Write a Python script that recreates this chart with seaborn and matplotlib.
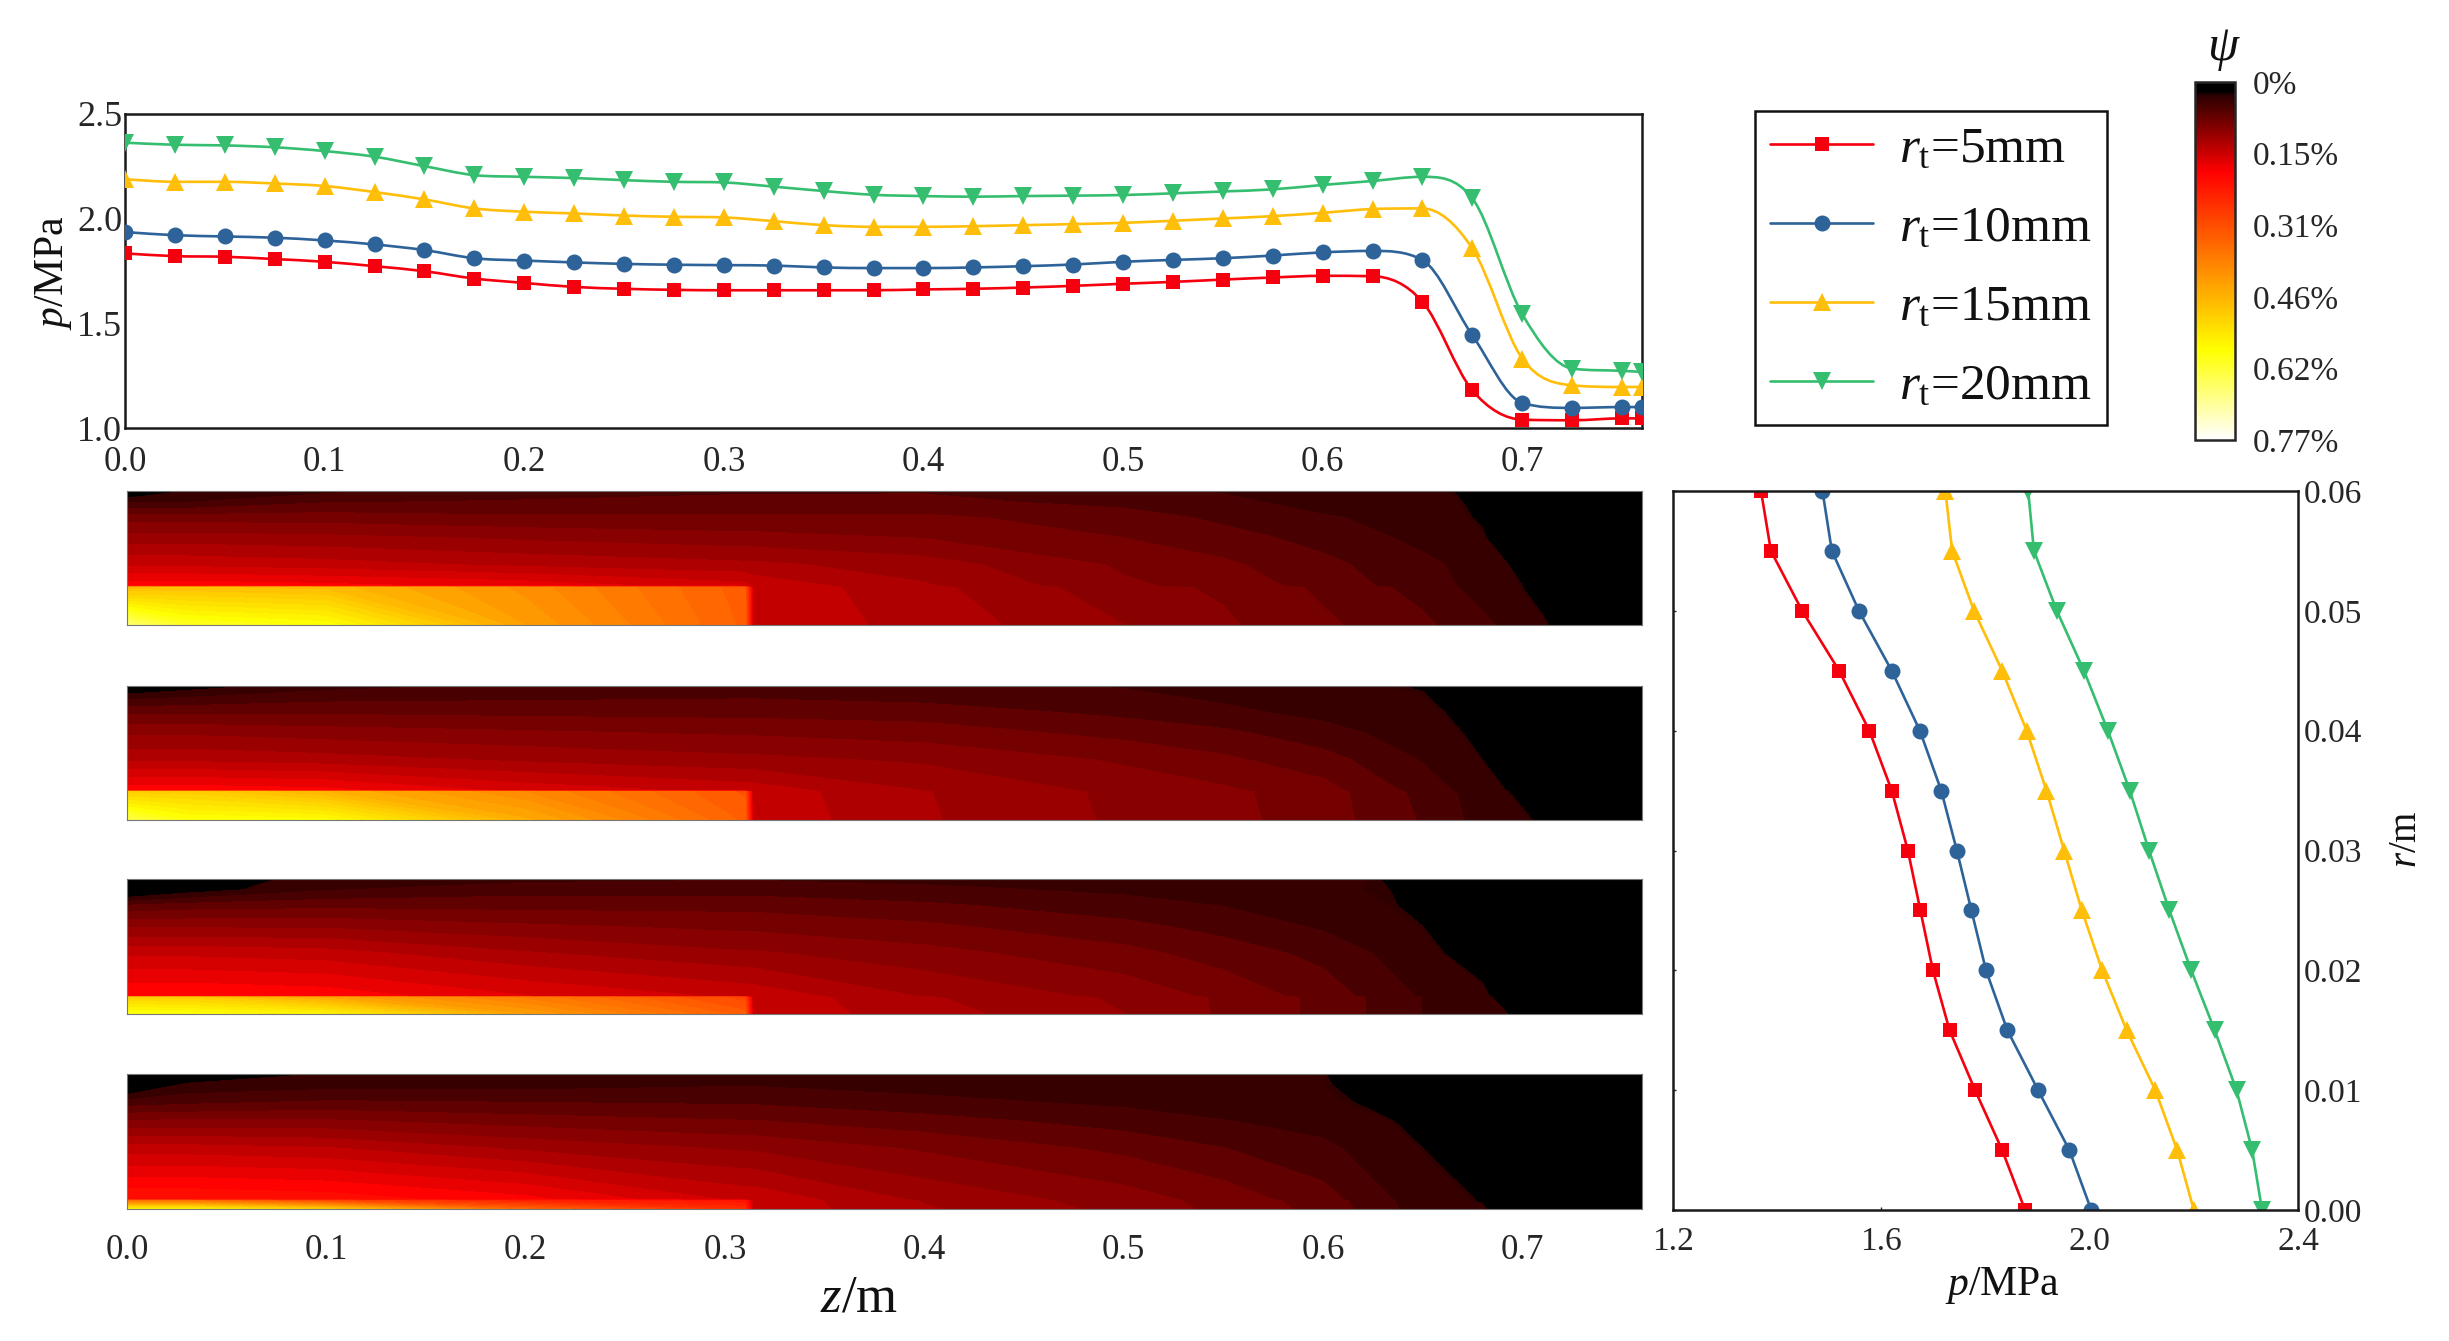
import numpy as np
import matplotlib
matplotlib.use('Agg')
import matplotlib.pyplot as plt
import seaborn as sns
from matplotlib.cm import ScalarMappable
from matplotlib.colors import LinearSegmentedColormap, Normalize
from matplotlib.patches import PathPatch
from matplotlib.path import Path

# axial pressure along the wall
z_axial = [0.0, 0.025, 0.05, 0.075, 0.1, 0.125, 0.15, 0.175, 0.2, 0.225, 0.25, 0.275, 0.3, 0.325, 0.35, 0.375,
           0.4, 0.425, 0.45, 0.475, 0.5, 0.525, 0.55, 0.575, 0.6, 0.625, 0.65, 0.675, 0.7, 0.725, 0.75, 0.76]
p_axial_5 = [1.834, 1.821, 1.818, 1.807, 1.794, 1.773, 1.749, 1.714, 1.693, 1.674, 1.665, 1.660, 1.658, 1.658, 1.658, 1.658,
             1.662, 1.665, 1.671, 1.679, 1.689, 1.698, 1.709, 1.719, 1.727, 1.725, 1.603, 1.180, 1.040, 1.037, 1.046, 1.046]
p_axial_10 = [1.936, 1.921, 1.915, 1.909, 1.896, 1.877, 1.850, 1.811, 1.800, 1.791, 1.784, 1.780, 1.778, 1.776, 1.767, 1.764,
              1.764, 1.767, 1.773, 1.781, 1.794, 1.803, 1.811, 1.824, 1.839, 1.846, 1.802, 1.443, 1.120, 1.096, 1.100, 1.100]
p_axial_15 = [2.188, 2.176, 2.176, 2.168, 2.156, 2.127, 2.092, 2.049, 2.033, 2.025, 2.015, 2.009, 2.006, 1.988, 1.969, 1.961,
              1.961, 1.964, 1.969, 1.974, 1.980, 1.990, 2.001, 2.012, 2.028, 2.046, 2.049, 1.858, 1.332, 1.204, 1.196, 1.196]
p_axial_20 = [2.363, 2.353, 2.350, 2.341, 2.323, 2.296, 2.251, 2.208, 2.200, 2.194, 2.184, 2.176, 2.173, 2.153, 2.132, 2.114,
              2.108, 2.105, 2.108, 2.110, 2.113, 2.121, 2.130, 2.140, 2.161, 2.180, 2.200, 2.097, 1.544, 1.284, 1.273, 1.268]

# radial pressure, listed from r=0.06 down to r=0
r_radial = [0.06, 0.055, 0.05, 0.045, 0.04, 0.035, 0.03, 0.025, 0.02, 0.015, 0.01, 0.005, 0.0]
p_radial_5 = [1.369, 1.388, 1.448, 1.519, 1.577, 1.620, 1.651, 1.675, 1.699, 1.731, 1.780, 1.832, 1.876]
p_radial_10 = [1.487, 1.505, 1.557, 1.620, 1.674, 1.715, 1.745, 1.773, 1.801, 1.842, 1.901, 1.961, 2.003]
p_radial_15 = [1.723, 1.736, 1.778, 1.832, 1.879, 1.917, 1.951, 1.985, 2.024, 2.071, 2.126, 2.168, 2.200]
p_radial_20 = [1.882, 1.893, 1.937, 1.989, 2.035, 2.077, 2.114, 2.153, 2.195, 2.240, 2.282, 2.312, 2.331]

labels = [r'$r_{\mathrm{t}}$=5mm', r'$r_{\mathrm{t}}$=10mm', r'$r_{\mathrm{t}}$=15mm', r'$r_{\mathrm{t}}$=20mm']
colors = ['#F5000F', '#2E6399', '#FFBE0A', '#35BE70']
markers = ['s', 'o', '^', 'v']
marker_sizes = [10.5, 11.5, 13, 13]

# psi field, rows run from r=0 up to r=0.06
z_field = [0.0, 0.03, 0.1, 0.2, 0.31, 0.314, 0.4, 0.5, 0.55, 0.6, 0.65, 0.68, 0.71, 0.76]
r_rows_1 = [0.0, 0.0168, 0.0175, 0.027, 0.039, 0.048, 0.0552, 0.06]
r_rows_2 = [0.0, 0.0126, 0.0132, 0.027, 0.039, 0.048, 0.0552, 0.06]
r_rows_3 = [0.0, 0.0074, 0.008, 0.027, 0.039, 0.048, 0.0552, 0.06]
r_rows_4 = [0.0, 0.0036, 0.0042, 0.027, 0.039, 0.048, 0.0552, 0.06]
psi_1 = [
    [.66, .60, .58, .43, .335, .15, .133, .108, .095, .08, .065, .05, .032, 0],
    [.47, .48, .47, .41, .33, .15, .128, .098, .09, .074, .056, .04, .025, 0],
    [.195, .195, .19, .18, .16, .15, .125, .095, .087, .07, .054, .04, .025, 0],
    [.15, .15, .145, .135, .127, .127, .115, .09, .08, .066, .05, .04, .017, 0],
    [.115, .115, .112, .105, .098, .098, .092, .077, .068, .056, .042, .032, 0, 0],
    [.085, .085, .085, .08, .08, .08, .08, .07, .058, .048, .04, .028, 0, 0],
    [.045, .045, .06, .063, .065, .065, .066, .056, .05, .04, .036, .027, 0, 0],
    [0, .03, .042, .055, .06, .06, .06, .05, .045, .038, .034, .026, 0, 0],
]
psi_2 = [
    [.63, .585, .575, .45, .335, .15, .125, .105, .097, .085, .06, .04, .028, 0],
    [.5, .5, .46, .4, .32, .148, .124, .104, .096, .084, .057, .038, .02, 0],
    [.195, .195, .19, .165, .148, .147, .123, .103, .095, .083, .055, .037, .019, 0],
    [.135, .135, .13, .12, .112, .112, .105, .09, .08, .068, .045, .03, 0, 0],
    [.105, .105, .1, .095, .09, .09, .085, .072, .065, .052, .038, .026, 0, 0],
    [.075, .075, .075, .073, .072, .072, .07, .058, .05, .042, .033, .025, 0, 0],
    [.04, .045, .055, .058, .06, .06, .056, .05, .043, .036, .031, .02, 0, 0],
    [0, .02, .04, .05, .055, .055, .05, .045, .04, .034, .029, 0, 0, 0],
]
psi_3 = [
    [.59, .58, .56, .43, .33, .15, .13, .108, .09, .073, .046, .041, .015, 0],
    [.5, .5, .44, .38, .3, .15, .125, .105, .09, .073, .046, .036, 0, 0],
    [.2, .2, .195, .17, .15, .149, .122, .103, .088, .07, .044, .034, 0, 0],
    [.15, .15, .145, .125, .11, .11, .098, .082, .07, .057, .035, .021, 0, 0],
    [.105, .105, .105, .095, .088, .088, .08, .066, .056, .044, .03, .01, 0, 0],
    [.065, .07, .073, .072, .072, .072, .065, .053, .046, .036, .028, 0, 0, 0],
    [0, .02, .045, .055, .055, .055, .05, .043, .037, .032, .029, 0, 0, 0],
    [0, .012, .04, .042, .045, .045, .042, .038, .034, .034, .027, 0, 0, 0],
]
psi_4 = [
    [.56, .56, .5, .34, .26, .15, .125, .103, .088, .072, .038, .032, 0, 0],
    [.36, .36, .3, .24, .22, .15, .122, .1, .087, .07, .037, .029, 0, 0],
    [.215, .215, .21, .19, .15, .15, .12, .1, .086, .068, .037, .029, 0, 0],
    [.145, .145, .14, .12, .105, .105, .09, .073, .062, .05, .03, .01, 0, 0],
    [.095, .095, .095, .085, .078, .078, .068, .055, .047, .04, .026, 0, 0, 0],
    [.05, .055, .062, .06, .058, .058, .05, .042, .036, .032, .025, 0, 0, 0],
    [0, .035, .04, .04, .045, .045, .04, .035, .032, .031, .02, 0, 0, 0],
    [0, 0, .032, .04, .04, .04, .036, .033, .032, .031, 0, 0, 0, 0],
]
psi_ticks = [0, 0.154, 0.308, 0.462, 0.616, 0.77]
psi_tick_labels = ['0%', '0.15%', '0.31%', '0.46%', '0.62%', '0.77%']

sns.set_theme(style='white')
plt.rcParams['font.family'] = ['Liberation Serif', 'DejaVu Serif']
plt.rcParams['mathtext.fontset'] = 'custom'
plt.rcParams['mathtext.rm'] = 'Liberation Serif'
plt.rcParams['mathtext.it'] = 'Liberation Serif:italic'
plt.rcParams['text.color'] = '#111111'

W, H = 2449, 1341
fig = plt.figure(figsize=(W / 100, H / 100), dpi=100)


def px_axes(x0, y0, x1, y1):
    # pixel box measured from the top left corner of the picture
    return fig.add_axes([x0 / W, 1 - y1 / H, (x1 - x0) / W, (y1 - y0) / H])


def smooth_line(ax, x, y, color):
    # the axial curves are splines through the markers, slopes limited so they do not dip between points
    x, y = np.asarray(x), np.asarray(y)
    d = np.diff(y) / np.diff(x)
    slope = np.gradient(y, x)
    for i in range(1, len(x) - 1):
        if d[i - 1] * d[i] <= 0:
            slope[i] = 0
        else:
            slope[i] = np.sign(slope[i]) * min(abs(slope[i]), 3 * abs(d[i - 1]), 3 * abs(d[i]))
    verts, codes = [(x[0], y[0])], [Path.MOVETO]
    for i in range(len(x) - 1):
        dx = (x[i + 1] - x[i]) / 3
        verts += [(x[i] + dx, y[i] + slope[i] * dx), (x[i + 1] - dx, y[i + 1] - slope[i + 1] * dx), (x[i + 1], y[i + 1])]
        codes += [Path.CURVE4] * 3
    ax.add_patch(PathPatch(Path(verts, codes), fill=False, edgecolor=color, lw=1.9, zorder=2))


def frame(ax, lw=1.8):
    for s in ax.spines.values():
        s.set_visible(True)
        s.set_linewidth(lw)
        s.set_color('#1a1a1a')


# top panel
ax_top = px_axes(125, 114, 1642, 428)
for p, c, m, ms in zip([p_axial_5, p_axial_10, p_axial_15, p_axial_20], colors, markers, marker_sizes):
    smooth_line(ax_top, z_axial, p, c)
    sns.lineplot(x=z_axial, y=p, ax=ax_top, color=c, marker=m, markersize=ms, markeredgewidth=0,
                 linestyle='none', estimator=None, sort=False, legend=False, zorder=3)
ax_top.set_xlim(0, 0.76)
ax_top.set_ylim(1.0, 2.5)
ax_top.set_xticks(np.arange(0, 0.75, 0.1))
ax_top.set_yticks([1.0, 1.5, 2.0, 2.5])
ax_top.xaxis.set_major_formatter('{x:.1f}')
ax_top.yaxis.set_major_formatter('{x:.1f}')
ax_top.tick_params(axis='x', length=0, pad=13, labelsize=25)
ax_top.tick_params(axis='y', length=0, pad=2, labelsize=26)
ax_top.set_xlabel('')
ax_top.set_ylabel('')
frame(ax_top)
fig.text(54 / W, 1 - 273 / H, r'$p$/MPa', rotation=90, ha='center', va='center', fontsize=30)

# contour panels
cmap = LinearSegmentedColormap.from_list('psi', [(0, '#000000'), (0.025, '#000000'), (0.035, '#2a0000'),
                                                 (0.25, '#ff0000'), (0.75, '#ffff00'), (1, '#ffffff')])
norm = Normalize(0, 0.77)
levels = np.linspace(0, 0.77, 51)
levels[1] = 0.03
panel_boxes = [(491, 625), (686, 820), (879, 1014), (1074, 1209)]
for (y0, y1), r_rows, psi in zip(panel_boxes, [r_rows_1, r_rows_2, r_rows_3, r_rows_4], [psi_1, psi_2, psi_3, psi_4]):
    ax = px_axes(127, y0, 1642, y1)
    ax.contourf(z_field, r_rows, np.array(psi), levels=levels, cmap=cmap, norm=norm)
    ax.set_xlim(0, 0.76)
    ax.set_ylim(0, 0.06)
    ax.set_yticks([])
    ax.set_xticks([])
    frame(ax, lw=0.8)
    for s in ax.spines.values():
        s.set_color('#777777')
ax.set_xticks(np.arange(0, 0.75, 0.1))
ax.xaxis.set_major_formatter('{x:.1f}')
ax.tick_params(axis='x', length=0, pad=18, labelsize=25)
fig.text(859 / W, 1 - 1298 / H, r'$z$/m', ha='center', va='center', fontsize=38)

# radial panel
ax_rad = px_axes(1673, 491, 2298, 1210)
for p, c, m, ms, lab in zip([p_radial_5, p_radial_10, p_radial_15, p_radial_20], colors, markers, marker_sizes, labels):
    sns.lineplot(x=p, y=r_radial, ax=ax_rad, color=c, marker=m, markersize=ms, markeredgewidth=0, linewidth=1.9,
                 estimator=None, sort=False, legend=False, label=lab)
ax_rad.set_xlim(1.2, 2.4)
ax_rad.set_ylim(0, 0.06)
ax_rad.set_xticks([1.2, 1.6, 2.0, 2.4])
ax_rad.set_yticks(np.arange(0, 0.061, 0.01))
ax_rad.xaxis.set_major_formatter('{x:.1f}')
ax_rad.yaxis.set_major_formatter('{x:.2f}')
ax_rad.tick_params(axis='x', direction='in', length=2, width=1, bottom=True, pad=12, labelsize=24)
ax_rad.tick_params(axis='y', direction='in', length=2, width=1, left=True, right=False,
                   labelleft=False, labelright=True, pad=4, labelsize=24)
ax_rad.set_xlabel('')
ax_rad.set_ylabel('')
frame(ax_rad)
fig.text(2002 / W, 1 - 1285 / H, r'$p$/MPa', ha='center', va='center', fontsize=30)
fig.text(2407 / W, 1 - 839 / H, r'$r$/m', rotation=90, ha='center', va='center', fontsize=28)

# legend box
handles, leg_labels = ax_rad.get_legend_handles_labels()
leg = fig.legend(handles, leg_labels, loc='upper left', bbox_to_anchor=(1755 / W, 1 - 111 / H), fontsize=37,
                 fancybox=False, framealpha=1, edgecolor='#111111', handlelength=2.0, handletextpad=0.5,
                 labelspacing=0.62, borderpad=0.3, borderaxespad=0)
leg.get_frame().set_linewidth(1.8)

# colour bar
cax = px_axes(2195, 82, 2235, 440)
cb = fig.colorbar(ScalarMappable(norm=norm, cmap=cmap), cax=cax, ticks=psi_ticks)
cax.invert_yaxis()
cax.set_yticklabels(psi_tick_labels)
cax.tick_params(length=0, pad=13, labelsize=24)
cb.outline.set_linewidth(1.8)
fig.text(2223 / W, 1 - 48 / H, 'ψ', style='italic', ha='center', va='center', fontsize=36)

fig.savefig('out.png', dpi=100)
